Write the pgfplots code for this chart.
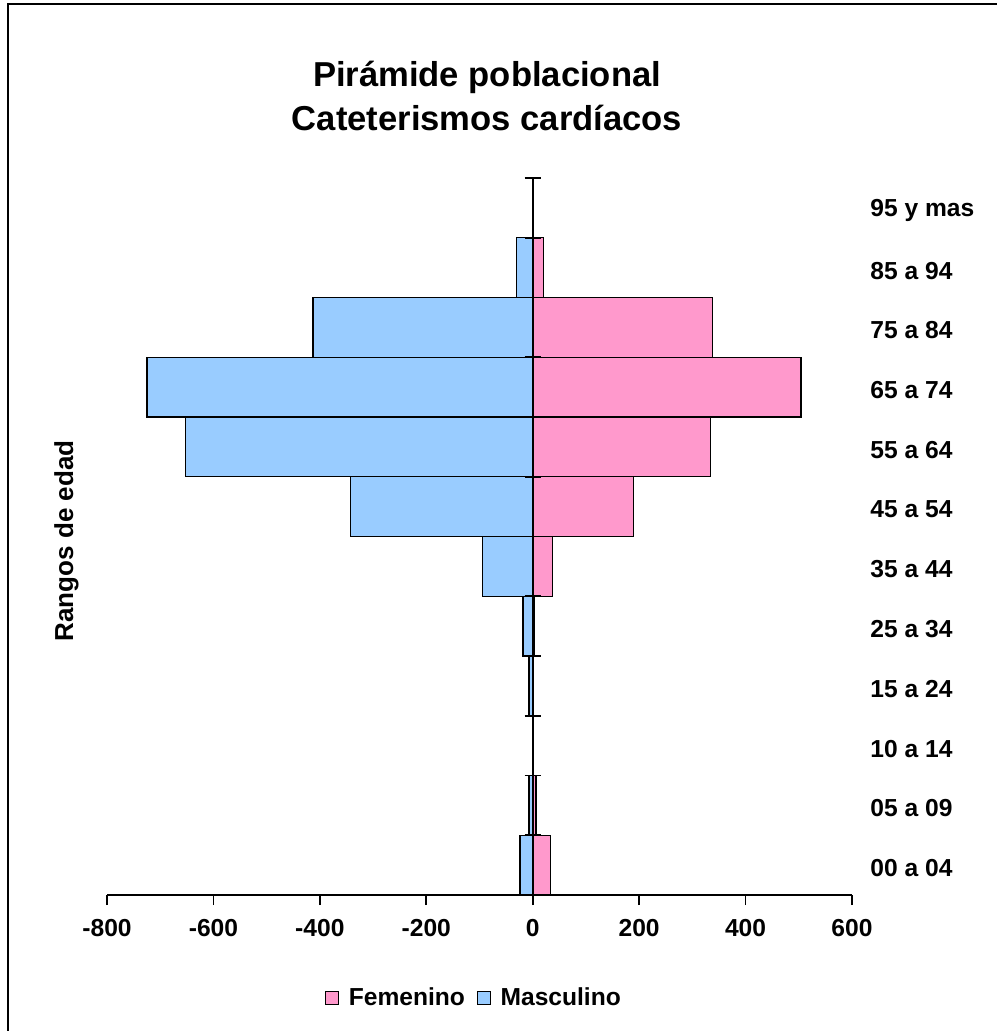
\documentclass[border=0pt]{standalone}
\usepackage{fontspec}
\setmainfont{Liberation Sans}
\usepackage{pgfplots}
\pgfplotsset{compat=1.18}
\definecolor{fem}{HTML}{FF99CC}
\definecolor{masc}{HTML}{99CCFF}
\pgfplotsset{sqlegend/.style={legend image code/.code={\draw[##1,line width=0.6pt] (0pt,-3.25pt) rectangle (6.5pt,3.25pt);}}}
\begin{document}
\begin{tikzpicture}
\path[use as bounding box] (0pt,0pt) rectangle (498pt,515.5pt);
\draw[line width=1pt] (4pt,-5pt) -- (4pt,513.5pt) -- (505pt,513.5pt);
\node[anchor=base,font=\fontsize{17.3}{20}\bfseries] at (243.5pt,472.1pt) {Pirámide poblacional};
\node[anchor=base,font=\fontsize{17.3}{20}\bfseries] at (243.5pt,450.3pt) {Cateterismos cardíacos};
\node[anchor=base,rotate=90,font=\fontsize{13}{15}\bfseries] at (36.5pt,245pt) {Rangos de edad};
\begin{axis}[
  at={(53.5pt,68pt)}, anchor=south west,
  width=372.5pt, height=358.5pt, scale only axis,
  xbar, bar width=1, bar shift=0,
  xmin=-800, xmax=600, ymin=-0.5, ymax=11.5,
  axis x line=bottom, axis y line=right,
  x axis line style={-, line width=0.8pt},
  y axis line style={draw=none},
  xtick={-800,-600,-400,-200,0,200,400,600},
  xticklabels={-800,-600,-400,-200,0,200,400,600},
  xtick align=outside, major tick length=5pt,
  xtick style={black, line width=0.8pt},
  ytick={0,1,2,3,4,5,6,7,8,9,10,11},
  yticklabels={00 a 04,05 a 09,10 a 14,15 a 24,25 a 34,35 a 44,45 a 54,55 a 64,65 a 74,75 a 84,85 a 94,95 y mas},
  ytick style={draw=none},
  yticklabel style={anchor=west, inner sep=0pt, xshift=6.5pt, yshift=-1.5pt, font=\fontsize{12.3}{14}\bfseries},
  xticklabel style={anchor=north, inner sep=0pt, yshift=-7pt, font=\fontsize{12.3}{14}\bfseries},
  clip=false,
  legend style={at={(0.494,-0.144)}, anchor=center, draw=none, legend columns=2,
    font=\fontsize{12.3}{14}\bfseries,
    /tikz/every odd column/.append style={column sep=2.7pt},
    /tikz/every even column/.append style={column sep=4pt}},
]
\addplot[fill=fem, draw=black, line width=0.65pt, sqlegend] coordinates {(33,0) (6,1) (1,2) (2,3) (4,4) (37,5) (189,6) (334,7) (504,8) (338,9) (20,10) (0,11)};
\addplot[fill=masc, draw=black, line width=0.65pt, sqlegend] coordinates {(-24,0) (-7,1) (-1,2) (-7,3) (-18,4) (-95,5) (-342,6) (-653,7) (-725,8) (-413,9) (-31,10) (0,11)};
\legend{Femenino,Masculino}
\draw[line width=0.8pt] (axis cs:0,-0.5) -- (axis cs:0,11.5);
\pgfplotsinvokeforeach{-0.5,0.5,...,11.5}{\draw[line width=0.8pt] ([xshift=-4pt]axis cs:0,#1) -- ([xshift=4pt]axis cs:0,#1);}
\end{axis}
\end{tikzpicture}
\end{document}
